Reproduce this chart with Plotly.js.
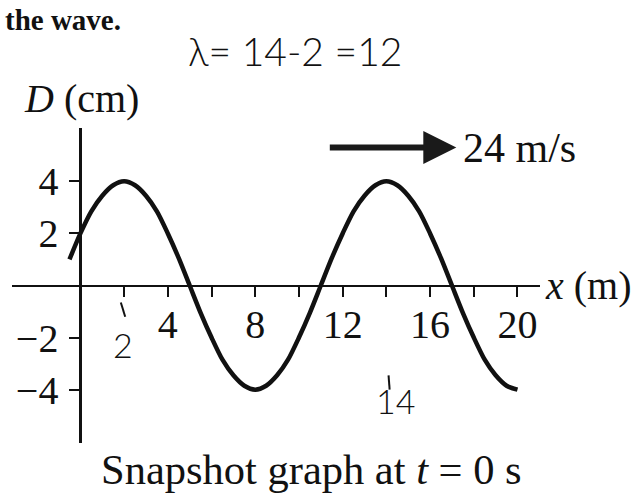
<!DOCTYPE html>
<html>
<head>
<meta charset="utf-8">
<script src="https://cdn.plot.ly/plotly-3.0.1.min.js"></script>
<style>
  html, body { margin: 0; padding: 0; background: #fff; }
  #chart { width: 636px; height: 501px; }
</style>
</head>
<body>
<div id="chart"></div>
<script>
// Wave displacement D (cm) at t = 0 s, sampled along x (m)
const xPos = [-0.5, 0, 0.5, 1, 1.5, 2, 2.5, 3, 3.5, 4, 4.5, 5, 5.5, 6, 6.5, 7, 7.5, 8, 8.5, 9, 9.5, 10,
              10.5, 11, 11.5, 12, 12.5, 13, 13.5, 14, 14.5, 15, 15.5, 16, 16.5, 17, 17.5, 18, 18.5, 19, 19.5, 20];
const dispCm = [1.0, 2.0, 2.85, 3.45, 3.85, 4.0, 3.85, 3.45, 2.85, 2.0, 1.05, 0.0, -1.05, -2.0, -2.85, -3.45, -3.85, -4.0, -3.85, -3.45, -2.85, -2.0,
                -1.05, 0.0, 1.05, 2.0, 2.85, 3.45, 3.85, 4.0, 3.85, 3.45, 2.85, 2.0, 1.05, 0.0, -1.05, -2.0, -2.85, -3.45, -3.85, -4.0];

// Axis ticks and their labels
const xTickVals = [2, 4, 6, 8, 10, 12, 14, 16, 18, 20];
const xTickText = ['', '4', '', '8', '', '12', '', '16', '', '20'];
const yTickVals = [-4, -2, 2, 4];
const yTickText = ['\u22124', '\u22122', '2', '4'];

// Wave speed shown by the arrow
const waveSpeed = 24;

const serif = 'Liberation Serif, Times New Roman, serif';
const hand = 'Lato, DejaVu Sans, sans-serif';
const ink = '#111111';

const xRange = [-3.13, 21.03];
const yRange = [-6.05, 6.05];
const yAxisPos = (0 - xRange[0]) / (xRange[1] - xRange[0]);
const xAxisPos = (0 - yRange[0]) / (yRange[1] - yRange[0]);

const trace = {
  x: xPos,
  y: dispCm,
  mode: 'lines',
  line: { color: ink, width: 4.5, shape: 'spline', smoothing: 0.8 },
  hoverinfo: 'skip',
  cliponaxis: false
};

const layout = {
  width: 636,
  height: 501,
  margin: { l: 12, r: 96, t: 128, b: 58 },
  paper_bgcolor: '#ffffff',
  plot_bgcolor: '#ffffff',
  showlegend: false,
  font: { family: serif, color: ink, size: 40 },
  xaxis: {
    range: xRange,
    anchor: 'free',
    position: xAxisPos,
    showline: true,
    linecolor: ink,
    linewidth: 2.5,
    showgrid: false,
    zeroline: false,
    tickmode: 'array',
    tickvals: xTickVals,
    ticktext: xTickText,
    ticks: 'outside',
    ticklen: 10,
    tickwidth: 2,
    tickcolor: ink,
    ticklabelstandoff: -7,
    tickfont: { family: serif, size: 40, color: ink },
    fixedrange: true
  },
  yaxis: {
    range: yRange,
    anchor: 'free',
    position: yAxisPos,
    showline: true,
    linecolor: ink,
    linewidth: 2.5,
    showgrid: false,
    zeroline: false,
    tickmode: 'array',
    tickvals: yTickVals,
    ticktext: yTickText,
    ticks: 'outside',
    ticklen: 10,
    tickwidth: 2,
    tickcolor: ink,
    ticklabelstandoff: 3,
    tickfont: { family: serif, size: 40, color: ink },
    fixedrange: true
  },
  shapes: [
    // pencil strokes marking x = 2 and x = 14
    { type: 'line', xref: 'x', yref: 'y', x0: 1.85, y0: -0.65, x1: 2.05, y1: -1.2,
      line: { color: ink, width: 2 } },
    { type: 'line', xref: 'x', yref: 'y', x0: 14.1, y0: -3.45, x1: 14.15, y1: -4.0,
      line: { color: ink, width: 2 } }
  ],
  annotations: [
    { xref: 'paper', yref: 'paper', x: -0.017, y: 1.343, xanchor: 'left', yanchor: 'middle',
      text: '<b>the wave.</b>', showarrow: false, font: { family: serif, size: 29, color: ink } },
    { xref: 'paper', yref: 'paper', x: 0.536, y: 1.245, xanchor: 'center', yanchor: 'middle',
      text: '\u03bb= 14-2 =12', showarrow: false,
      font: { family: hand, size: 39, color: ink, weight: 300 } },
    { xref: 'paper', yref: 'paper', x: 0.018, y: 1.095, xanchor: 'left', yanchor: 'middle',
      text: '<i>D</i> (cm)', showarrow: false, font: { family: serif, size: 40, color: ink } },
    { xref: 'paper', yref: 'y', x: 1.005, y: 0, xanchor: 'left', yanchor: 'middle',
      text: '<i>x</i> (m)', showarrow: false, font: { family: serif, size: 40, color: ink } },
    { xref: 'x', yref: 'y', x: 17.2, y: 5.3, ax: -128, ay: 0, axref: 'pixel', ayref: 'pixel',
      text: '', showarrow: true, arrowhead: 2, arrowsize: 1.1, arrowwidth: 6, arrowcolor: '#1a1a1a' },
    { xref: 'x', yref: 'y', x: 17.4, y: 5.3, xanchor: 'left', yanchor: 'middle',
      text: waveSpeed + ' m/s', showarrow: false, font: { family: serif, size: 42, color: ink } },
    { xref: 'x', yref: 'y', x: 1.95, y: -2.25, xanchor: 'center', yanchor: 'middle',
      text: '2', showarrow: false, font: { family: hand, size: 34, color: ink, weight: 300 } },
    { xref: 'x', yref: 'y', x: 14.4, y: -4.4, xanchor: 'center', yanchor: 'middle',
      text: '14', showarrow: false, font: { family: hand, size: 34, color: ink, weight: 300 } },
    { xref: 'paper', yref: 'paper', x: 0.568, y: -0.085, xanchor: 'center', yanchor: 'middle',
      text: 'Snapshot graph at <i>t</i> = 0 s', showarrow: false,
      font: { family: serif, size: 42.5, color: ink } }
  ]
};

Plotly.newPlot('chart', [trace], layout, { staticPlot: true, displayModeBar: false });
</script>
</body>
</html>
